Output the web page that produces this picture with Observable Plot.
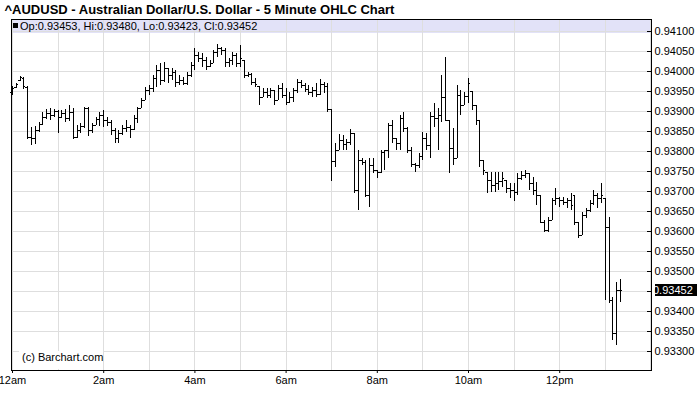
<!DOCTYPE html>
<html><head><meta charset="utf-8">
<script src="https://cdn.jsdelivr.net/npm/d3@7"></script>
<script src="https://cdn.jsdelivr.net/npm/@observablehq/plot@0.6"></script>
<style>
html,body{margin:0;padding:0;background:#fff;}
#chart svg{display:block;font-family:"Liberation Sans",Arial,sans-serif;}
</style></head><body><div id="chart"></div>
<script>
const title = "^AUDUSD - Australian Dollar/U.S. Dollar - 5 Minute OHLC Chart";
const headerText = "Op:0.93453, Hi:0.93480, Lo:0.93423, Cl:0.93452";
const credit = "(c) Barchart.com";
const barMinutes = 5;
const opens = [.93947,.93960,.93977,.93982,.93960,.93835,.93832,.93852,.93867,.93885,
.93895,.93890,.93900,.93885,.93895,.93882,.93897,.93835,.93852,.93862,
.93907,.93852,.93865,.93880,.93890,.93877,.93872,.93852,.93832,.93845,
.93857,.93860,.93855,.93882,.93907,.93927,.93952,.93957,.93982,.94002,
.93977,.94007,.93990,.93997,.93972,.93977,.93970,.93990,.94015,.94040,
.94032,.94027,.94012,.94020,.94047,.94057,.94052,.94022,.94027,.94040,
.94020,.94027,.93990,.93992,.93972,.93962,.93935,.93947,.93940,.93952,
.93927,.93957,.93940,.93922,.93935,.93952,.93972,.93965,.93955,.93947,
.93952,.93942,.93967,.93962,.93905,.93775,.93802,.93827,.93817,.93822,
.93845,.93702,.93777,.93772,.93690,.93765,.93752,.93747,.93797,.93802,
.93865,.93832,.93820,.93882,.93857,.93802,.93767,.93765,.93787,.93832,
.93815,.93887,.93882,.93890,.93935,.93877,.93807,.93782,.93940,.93915,
.93937,.93950,.93915,.93877,.93777,.93747,.93727,.93715,.93720,.93725,
.93727,.93707,.93702,.93697,.93732,.93740,.93745,.93720,.93702,.93690,
.93622,.93602,.93627,.93677,.93682,.93677,.93672,.93677,.93690,.93622,
.93590,.93640,.93652,.93670,.93690,.93682,.93682,.93610,.93427,.93345,
.93453];
const highs = [.93962,.93970,.93987,.93985,.93962,.93860,.93862,.93872,.93897,.93905,
.93907,.93905,.93902,.93902,.93905,.93915,.93907,.93865,.93870,.93910,
.93910,.93870,.93885,.93897,.93902,.93885,.93877,.93857,.93852,.93865,
.93877,.93865,.93890,.93910,.93932,.93960,.93965,.93990,.94015,.94020,
.94022,.94007,.94007,.94002,.93990,.93985,.93997,.94022,.94057,.94047,
.94045,.94035,.94027,.94052,.94067,.94060,.94057,.94032,.94047,.94045,
.94065,.94027,.93997,.93995,.93982,.93962,.93957,.93957,.93957,.93952,
.93965,.93970,.93957,.93947,.93957,.93980,.93977,.93970,.93965,.93960,
.93970,.93980,.93972,.93970,.93905,.93820,.93842,.93840,.93830,.93855,
.93845,.93802,.93782,.93777,.93782,.93782,.93752,.93802,.93802,.93870,
.93877,.93832,.93890,.93897,.93860,.93810,.93770,.93795,.93847,.93845,
.93897,.93920,.93907,.93990,.94035,.93877,.93857,.93965,.93952,.93947,
.93982,.93950,.93915,.93877,.93777,.93747,.93747,.93747,.93747,.93747,
.93727,.93720,.93720,.93745,.93750,.93752,.93745,.93735,.93722,.93690,
.93627,.93635,.93682,.93707,.93685,.93685,.93682,.93695,.93690,.93622,
.93647,.93657,.93677,.93702,.93695,.93720,.93682,.93635,.93435,.93472,
.93480];
const lows = [.93940,.93957,.93975,.93955,.93830,.93815,.93817,.93847,.93865,.93880,
.93877,.93885,.93845,.93882,.93872,.93875,.93830,.93832,.93845,.93857,
.93837,.93845,.93865,.93862,.93860,.93862,.93840,.93820,.93820,.93840,
.93847,.93832,.93852,.93870,.93907,.93927,.93940,.93947,.93960,.93965,
.93972,.93970,.93977,.93960,.93965,.93965,.93965,.93985,.94002,.94022,
.94010,.94002,.94010,.94020,.94035,.94040,.94010,.94010,.94015,.94010,
.94010,.93982,.93985,.93965,.93960,.93915,.93935,.93932,.93932,.93915,
.93927,.93932,.93915,.93920,.93922,.93945,.93957,.93947,.93940,.93935,
.93935,.93940,.93945,.93897,.93725,.93760,.93802,.93802,.93802,.93815,
.93695,.93652,.93765,.93685,.93660,.93745,.93732,.93745,.93752,.93782,
.93820,.93802,.93802,.93847,.93795,.93760,.93747,.93757,.93777,.93802,
.93782,.93860,.93802,.93872,.93877,.93745,.93765,.93782,.93890,.93915,
.93920,.93902,.93865,.93760,.93740,.93695,.93697,.93697,.93702,.93710,
.93695,.93682,.93675,.93690,.93727,.93732,.93702,.93690,.93665,.93620,
.93597,.93597,.93627,.93665,.93660,.93665,.93657,.93652,.93615,.93582,
.93590,.93632,.93647,.93665,.93657,.93670,.93427,.93420,.93327,.93315,
.93423];
const closes = [.93957,.93967,.93985,.93962,.93835,.93832,.93852,.93867,.93885,.93895,
.93890,.93900,.93885,.93895,.93882,.93897,.93835,.93852,.93862,.93907,
.93852,.93865,.93880,.93890,.93877,.93872,.93852,.93832,.93845,.93857,
.93860,.93855,.93882,.93907,.93927,.93952,.93957,.93982,.94002,.93977,
.94007,.93990,.93997,.93972,.93977,.93970,.93990,.94015,.94040,.94032,
.94027,.94012,.94020,.94047,.94057,.94052,.94022,.94027,.94040,.94020,
.94032,.93990,.93992,.93972,.93967,.93935,.93947,.93940,.93952,.93927,
.93957,.93940,.93922,.93935,.93952,.93972,.93965,.93955,.93947,.93952,
.93942,.93967,.93962,.93905,.93775,.93802,.93827,.93817,.93822,.93845,
.93702,.93777,.93772,.93690,.93765,.93752,.93747,.93797,.93802,.93865,
.93832,.93820,.93882,.93857,.93802,.93767,.93765,.93787,.93832,.93815,
.93887,.93882,.93890,.93935,.93877,.93807,.93782,.93940,.93915,.93937,
.93970,.93915,.93877,.93777,.93752,.93727,.93715,.93720,.93725,.93732,
.93707,.93702,.93697,.93732,.93740,.93745,.93720,.93702,.93690,.93622,
.93602,.93627,.93677,.93682,.93677,.93672,.93677,.93665,.93622,.93590,
.93640,.93652,.93670,.93690,.93682,.93690,.93610,.93427,.93345,.93452,
.93452];
const xTickHours = [0, 2, 4, 6, 8, 10, 12];
const xTickLabels = ["12am", "2am", "4am", "6am", "8am", "10am", "12pm"];
const gridHours = [0,1,2,3,4,5,6,7,8,9,10,11,12,13,14];
const yTicks = [0.9330,0.9335,0.9340,0.9345,0.9350,0.9355,0.9360,0.9365,0.9370,0.9375,0.9380,0.9385,0.9390,0.9395,0.9400,0.9405,0.9410];
const lastPrice = 0.93452;

const bars = opens.map((o, i) => ({t: i * barMinutes / 60, o, h: highs[i], l: lows[i], c: closes[i]}));
const half = barMinutes / 60 / 2;
const fmt = d3.format(".5f");
const FONT = "'Liberation Sans', Arial, sans-serif";

function headerBand(index, scales, values, dims) {
  const g = d3.create("svg:g");
  g.append("rect").attr("x", dims.marginLeft).attr("y", dims.marginTop)
    .attr("width", dims.width - dims.marginLeft - dims.marginRight).attr("height", 14)
    .attr("fill", "#e2e2f8");
  return g.node();
}
function headerLabel(index, scales, values, dims) {
  const g = d3.create("svg:g").attr("text-anchor", "start");
  g.append("rect").attr("x", dims.marginLeft + 2).attr("y", dims.marginTop + 4)
    .attr("width", 5).attr("height", 5).attr("fill", "#000");
  g.append("text").attr("x", dims.marginLeft + 9).attr("y", dims.marginTop + 11)
    .attr("text-anchor", "start").attr("font-size", 11).attr("font-family", FONT).attr("fill", "#000").text(headerText);
  return g.node();
}
function creditBox(index, scales, values, dims) {
  const g = d3.create("svg:g").attr("text-anchor", "start");
  const yb = dims.height - dims.marginBottom;
  g.append("rect").attr("x", dims.marginLeft + 8).attr("y", yb - 19)
    .attr("width", 84).attr("height", 18).attr("fill", "#fff");
  g.append("text").attr("x", dims.marginLeft + 11).attr("y", yb - 9)
    .attr("text-anchor", "start").attr("font-size", 11).attr("font-family", FONT).attr("fill", "#000").text(credit);
  return g.node();
}
function rightTicks(index, {y}, values, dims) {
  const g = d3.create("svg:g").attr("stroke", "#000").attr("shape-rendering", "crispEdges");
  const xr = dims.width - dims.marginRight;
  for (const v of yTicks) {
    const yy = Math.round(y(v)) + 0.5;
    g.append("line").attr("x1", xr - 4).attr("x2", xr).attr("y1", yy).attr("y2", yy);
  }
  return g.node();
}
function lastBox(index, {y}, values, dims) {
  const g = d3.create("svg:g").attr("text-anchor", "start");
  const xr = dims.width - dims.marginRight;
  const yy = y(lastPrice);
  g.append("rect").attr("x", xr + 4).attr("y", Math.round(yy) - 6).attr("width", 42).attr("height", 12).attr("fill", "#000");
  g.append("text").attr("x", xr + 2).attr("y", yy + 4).attr("text-anchor", "start").attr("font-size", 11).attr("font-family", FONT)
    .attr("fill", "#fff").text(fmt(lastPrice));
  return g.node();
}

const pxPerHour = 45.53;
const plot = Plot.plot({
  width: 700, height: 411,
  marginLeft: 11, marginRight: 49, marginTop: 19, marginBottom: 41,
  style: {fontFamily: FONT, fontSize: "11px", color: "#000", background: "#fff"},
  x: {domain: [-1 / pxPerHour, 638 / pxPerHour], axis: null, label: null},
  y: {domain: [0.941 - (370 - 30.7) * 0.000025, 0.941 - (19 - 30.7) * 0.000025], axis: null, label: null},
  marks: [
    headerBand,
    Plot.ruleX(gridHours, {x: d => d, stroke: "#dedede", strokeWidth: 1, shapeRendering: "crispEdges"}),
    Plot.ruleY(yTicks, {y: d => d, stroke: "#dedede", strokeWidth: 1, shapeRendering: "crispEdges"}),
    headerLabel,
    creditBox,
    Plot.ruleX(bars, {x: "t", y1: "l", y2: "h", stroke: "#000", strokeWidth: 1, shapeRendering: "crispEdges"}),
    Plot.ruleY(bars, {y: "o", x1: d => d.t - half, x2: "t", stroke: "#000", strokeWidth: 1, shapeRendering: "crispEdges"}),
    Plot.ruleY(bars, {y: "c", x1: "t", x2: d => d.t + half, stroke: "#000", strokeWidth: 1, shapeRendering: "crispEdges"}),
    rightTicks,
    Plot.frame({stroke: "#000", strokeWidth: 1, shapeRendering: "crispEdges"}),
    Plot.text(yTicks, {y: d => d, text: d => fmt(d), frameAnchor: "right", dx: 3, textAnchor: "start", fontSize: 11, fill: "#000"}),
    lastBox,
    Plot.axisX(xTickHours, {anchor: "bottom", label: null, tickSize: 3, tickPadding: 3, stroke: "#000", fontSize: 11,
      tickFormat: d => xTickLabels[xTickHours.indexOf(d)]}),
    Plot.text([title], {frameAnchor: "top-left", dx: -7, dy: -10, textAnchor: "start", lineAnchor: "middle",
      fontWeight: "bold", fontSize: 13, fill: "#000"})
  ]
});
document.getElementById("chart").appendChild(plot);
</script></body></html>
